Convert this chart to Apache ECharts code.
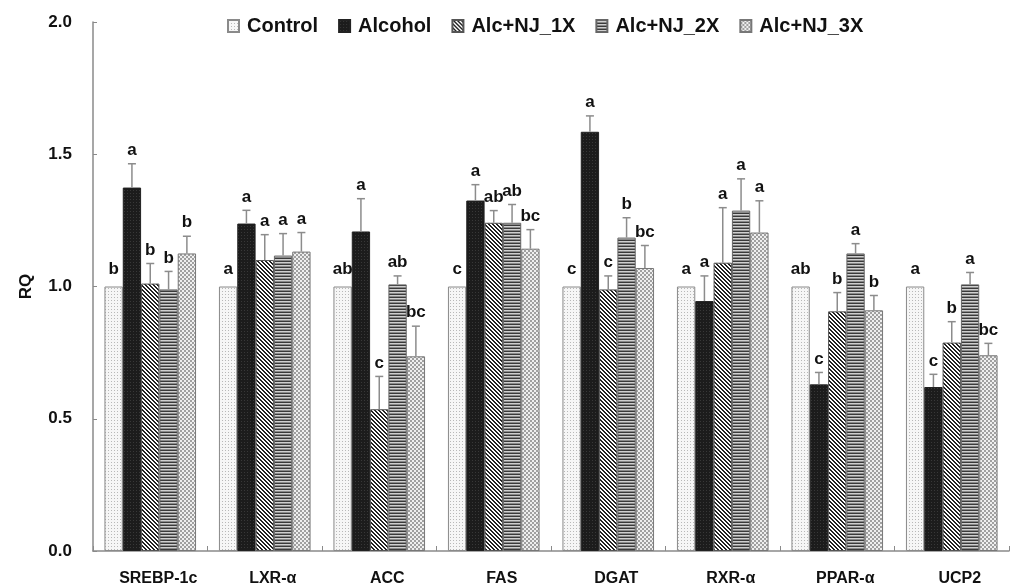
<!DOCTYPE html>
<html>
<head>
<meta charset="utf-8">
<script src="https://cdn.jsdelivr.net/npm/echarts@6/dist/echarts.min.js"></script>
<style>
html,body{margin:0;padding:0;background:#fff;}
#chart{width:1014px;height:587px;}
</style>
</head>
<body>
<div id="chart"></div>
<script>
// ---- data ----
var categories = ['SREBP-1c', 'LXR-α', 'ACC', 'FAS', 'DGAT', 'RXR-α', 'PPAR-α', 'UCP2'];
var seriesNames = ['Control', 'Alcohol', 'Alc+NJ_1X', 'Alc+NJ_2X', 'Alc+NJ_3X'];
var control = [1, 1, 1, 1, 1, 1, 1, 1];
var alcohol = [1.374, 1.238, 1.208, 1.325, 1.585, 0.945, 0.630, 0.620];
var nj1 = [1.011, 1.100, 0.536, 1.241, 0.989, 1.090, 0.906, 0.788];
var nj2 = [0.989, 1.117, 1.008, 1.241, 1.185, 1.287, 1.125, 1.008];
var nj3 = [1.125, 1.132, 0.736, 1.143, 1.070, 1.204, 0.910, 0.740];
var controlErr = [0, 0, 0, 0, 0, 0, 0, 0];
var alcoholErr = [0.090, 0.050, 0.124, 0.060, 0.060, 0.095, 0.045, 0.048];
var nj1Err = [0.076, 0.096, 0.124, 0.046, 0.051, 0.208, 0.071, 0.079];
var nj2Err = [0.068, 0.083, 0.032, 0.069, 0.075, 0.120, 0.037, 0.045];
var nj3Err = [0.065, 0.072, 0.114, 0.072, 0.085, 0.120, 0.056, 0.045];
var controlSig = ['b', 'a', 'ab', 'c', 'c', 'a', 'ab', 'a'];
var alcoholSig = ['a', 'a', 'a', 'a', 'a', 'a', 'c', 'c'];
var nj1Sig = ['b', 'a', 'c', 'ab', 'c', 'a', 'b', 'b'];
var nj2Sig = ['b', 'a', 'ab', 'ab', 'b', 'a', 'a', 'a'];
var nj3Sig = ['b', 'a', 'bc', 'bc', 'bc', 'a', 'b', 'bc'];
var yTicks = ['0.0', '0.5', '1.0', '1.5', '2.0'];

var values = [control, alcohol, nj1, nj2, nj3];
var errors = [controlErr, alcoholErr, nj1Err, nj2Err, nj3Err];
var sigs = [controlSig, alcoholSig, nj1Sig, nj2Sig, nj3Sig];

// ---- patterns ----
function makePattern(w, h, draw) {
  var c = document.createElement('canvas');
  c.width = w; c.height = h;
  var ctx = c.getContext('2d');
  draw(ctx, w, h);
  return { image: c, repeat: 'repeat' };
}
function px(ctx, x, y, col) { ctx.fillStyle = col; ctx.fillRect(x, y, 1, 1); }
var patterns = [
  makePattern(3, 3, function (ctx, w, h) {
    ctx.fillStyle = '#f6f6f6'; ctx.fillRect(0, 0, w, h);
    px(ctx, 0, 0, '#b8b8b8');
  }),
  makePattern(3, 3, function (ctx, w, h) {
    ctx.fillStyle = '#1c1c1c'; ctx.fillRect(0, 0, w, h);
    px(ctx, 1, 1, '#383838');
  }),
  makePattern(4, 4, function (ctx, w, h) {
    ctx.fillStyle = '#ffffff'; ctx.fillRect(0, 0, w, h);
    for (var y = 0; y < h; y++) for (var x = 0; x < w; x++) {
      if ((((x - y) % 4) + 4) % 4 < 2) px(ctx, x, y, '#222');
    }
  }),
  makePattern(2, 3, function (ctx, w, h) {
    ctx.fillStyle = '#cfcfcf'; ctx.fillRect(0, 0, w, h);
    ctx.fillStyle = '#3a3a3a'; ctx.fillRect(0, 0, w, 1);
    ctx.fillStyle = '#8a8a8a'; ctx.fillRect(0, 2, w, 1);
  }),
  makePattern(4, 4, function (ctx, w, h) {
    ctx.fillStyle = '#a0a0a0'; ctx.fillRect(0, 0, w, h);
    ctx.fillStyle = '#efefef'; ctx.fillRect(0, 0, 2, 2); ctx.fillRect(2, 2, 2, 2);
  })
];
var borders = ['#8a8a8a', '#222', '#555', '#666', '#777'];

var FONT = '"Liberation Sans", Arial, Helvetica, sans-serif';
var GAP = 0.2;

var series = [];
values.forEach(function (vals, i) {
  series.push({
    name: seriesNames[i],
    type: 'bar',
    data: vals,
    barGap: '0%',
    barCategoryGap: (GAP * 100) + '%',
    itemStyle: { color: patterns[i], borderColor: borders[i], borderWidth: 1 },
    emphasis: { disabled: true },
    z: 2
  });
});
values.forEach(function (vals, i) {
  series.push({
    type: 'custom',
    name: 'err' + i,
    silent: true,
    z: 5,
    data: vals.map(function (v, k) { return [k, v, errors[i][k]]; }),
    renderItem: function (params, api) {
      var k = api.value(0), v = api.value(1), e = api.value(2);
      var band = api.size([1, 0])[0];
      var barW = band * (1 - GAP) / 5;
      var base = api.coord([k, v]);
      var x = base[0] + (i - 2) * barW;
      var top = api.coord([k, v + e])[1];
      var children = [];
      if (e > 0) {
        children.push({ type: 'line', shape: { x1: x, y1: base[1], x2: x, y2: top },
          style: { stroke: '#8c8c8c', lineWidth: 1.5 } });
        children.push({ type: 'line', shape: { x1: x - 4, y1: top, x2: x + 4, y2: top },
          style: { stroke: '#8c8c8c', lineWidth: 1.5 } });
      }
      children.push({ type: 'text', x: x, y: top - (e > 0 ? 5 : 9),
        style: { text: sigs[i][k], fill: '#111', font: 'bold 17px ' + FONT,
          textAlign: 'center', textVerticalAlign: 'bottom' } });
      return { type: 'group', children: children };
    }
  });
});

var chart = echarts.init(document.getElementById('chart'), null, { renderer: 'canvas' });
chart.setOption({
  animation: false,
  backgroundColor: '#fff',
  textStyle: { fontFamily: FONT },
  legend: {
    data: seriesNames,
    left: 222, top: 11,
    itemWidth: 11, itemHeight: 12, itemGap: 20,
    icon: 'rect',
    textStyle: { fontSize: 20, fontWeight: 'bold', color: '#111', fontFamily: FONT, padding: [0, 0, 0, 3] },
    selectedMode: false
  },
  grid: { left: 93, top: 22, width: 916, bottom: 35, containLabel: false },
  xAxis: {
    type: 'category',
    data: categories,
    axisLine: { lineStyle: { color: '#8a8a8a', width: 1.5 } },
    axisTick: { show: true, inside: true, length: 5, lineStyle: { color: '#8a8a8a' } },
    axisLabel: { fontSize: 16, fontWeight: 'bold', color: '#111', margin: 20, fontFamily: FONT,
      padding: [0, 0, 0, 16] }
  },
  yAxis: {
    type: 'value',
    min: 0, max: 2, interval: 0.5,
    name: 'RQ',
    nameLocation: 'middle',
    nameGap: 58,
    nameRotate: 90,
    nameTextStyle: { fontSize: 17, fontWeight: 'bold', color: '#111', fontFamily: FONT },
    splitLine: { show: false },
    axisLine: { show: true, lineStyle: { color: '#8a8a8a', width: 1.5 } },
    axisTick: { show: true, inside: true, length: 4, lineStyle: { color: '#8a8a8a' } },
    axisLabel: {
      fontSize: 17, fontWeight: 'bold', color: '#111', margin: 21, fontFamily: FONT,
      formatter: function (v) { return yTicks[Math.round(v / 0.5)]; }
    }
  },
  series: series
});
</script>
</body>
</html>
